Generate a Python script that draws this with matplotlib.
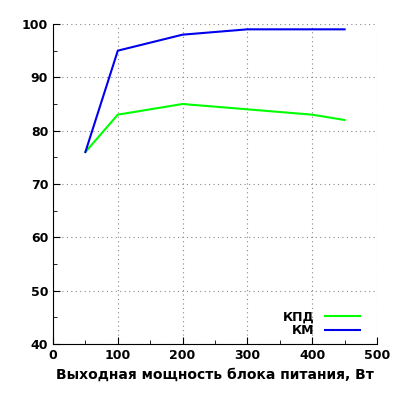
import matplotlib
matplotlib.use('Agg')
import matplotlib.pyplot as plt
from matplotlib.ticker import MultipleLocator

power = [50, 100, 200, 300, 400, 450]
kpd = [76, 83, 85, 84, 83, 82]
km = [76, 95, 98, 99, 99, 99]

plt.rcParams['font.family'] = 'DejaVu Sans'
plt.rcParams['font.weight'] = 'bold'

fig = plt.figure(figsize=(4, 4), dpi=100)
ax = fig.add_axes([53/400, 1-344/400, (377-53)/400, (344-24)/400])

ax.plot(power, kpd, color='#00ff00', lw=1.5, label='КПД')
ax.plot(power, km, color='#0000ee', lw=1.5, label='КМ')

ax.set_xlim(0, 500)
ax.set_ylim(40, 100)
ax.xaxis.set_major_locator(MultipleLocator(100))
ax.xaxis.set_minor_locator(MultipleLocator(50))
ax.yaxis.set_major_locator(MultipleLocator(10))
ax.yaxis.set_minor_locator(MultipleLocator(5))
ax.tick_params(which='both', direction='in', labelsize=9)
ax.tick_params(which='major', length=5)
ax.tick_params(which='minor', length=3)
ax.grid(True, which='major', ls=(0, (1, 3)), color='#888888', lw=0.8)
ax.spines['top'].set_visible(False)
ax.spines['right'].set_visible(False)
ax.set_xlabel('Выходная мощность блока питания, Вт', fontsize=10, fontweight='bold')

ax.legend(loc='lower right', frameon=False, markerfirst=False, fontsize=9,
          handlelength=2.8, labelspacing=0.1, borderaxespad=0.6,
          bbox_to_anchor=(1 - 5/324, -6/320))

fig.savefig('out.png')
